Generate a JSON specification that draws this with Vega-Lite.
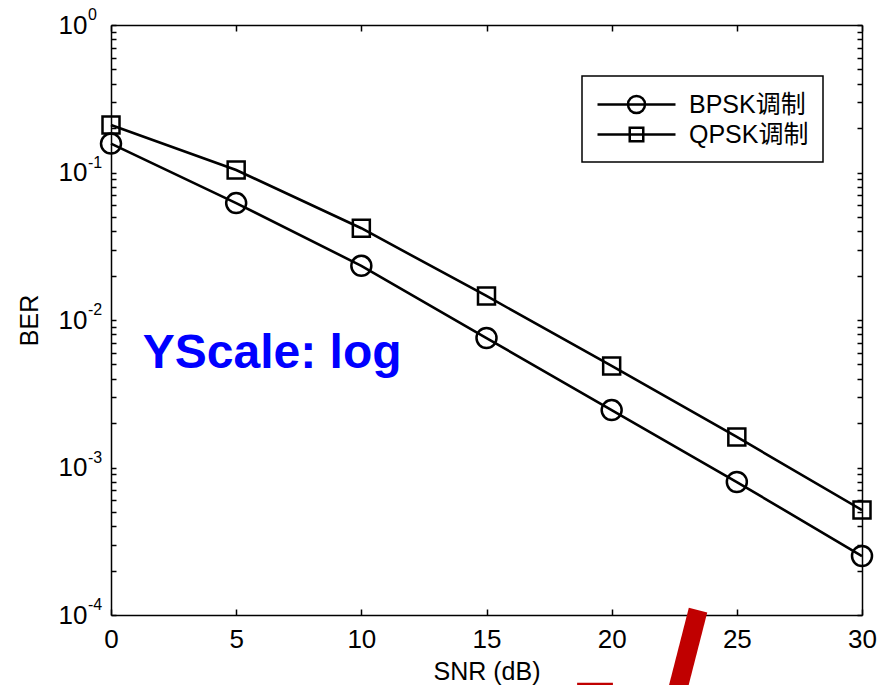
{
  "$schema": "https://vega.github.io/schema/vega-lite/v6.json",
  "width": 751,
  "height": 590,
  "autosize": {"type": "none"},
  "padding": {"left": 111, "top": 25, "right": 27, "bottom": 70},
  "background": "white",
  "config": {
    "view": {"stroke": null},
    "font": "Liberation Sans",
    "axis": {
      "grid": false,
      "domainColor": "black",
      "domainWidth": 1.5,
      "tickColor": "black",
      "tickWidth": 1.5,
      "labelColor": "black",
      "titleColor": "black",
      "labelFont": "Liberation Sans",
      "titleFont": "Liberation Sans",
      "labelFontSize": 26,
      "titleFontSize": 25,
      "titleFontWeight": "normal",
      "labelFlush": false,
      "labelOverlap": false
    },
    "legend": {
      "labelFont": "Liberation Sans, Noto Sans CJK SC",
      "labelFontSize": 25,
      "labelColor": "black",
      "strokeColor": "black",
      "strokeWidth": 1.5,
      "fillColor": "white",
      "padding": 14,
      "symbolStrokeColor": "black",
      "symbolStrokeWidth": 2.5,
      "symbolFillColor": "transparent"
    }
  },
  "datasets": {
    "ber": [
      {"snr": 0, "ber": 0.157, "mod": "BPSK调制"},
      {"snr": 5, "ber": 0.062, "mod": "BPSK调制"},
      {"snr": 10, "ber": 0.0233, "mod": "BPSK调制"},
      {"snr": 15, "ber": 0.00755, "mod": "BPSK调制"},
      {"snr": 20, "ber": 0.00245, "mod": "BPSK调制"},
      {"snr": 25, "ber": 0.000797, "mod": "BPSK调制"},
      {"snr": 30, "ber": 0.000251, "mod": "BPSK调制"},
      {"snr": 0, "ber": 0.21, "mod": "QPSK调制"},
      {"snr": 5, "ber": 0.104, "mod": "QPSK调制"},
      {"snr": 10, "ber": 0.0419, "mod": "QPSK调制"},
      {"snr": 15, "ber": 0.01455, "mod": "QPSK调制"},
      {"snr": 20, "ber": 0.00488, "mod": "QPSK调制"},
      {"snr": 25, "ber": 0.00161, "mod": "QPSK调制"},
      {"snr": 30, "ber": 0.000515, "mod": "QPSK调制"}
    ],
    "exps": [
      {"v": 1, "e": "0"},
      {"v": 0.1, "e": "-1"},
      {"v": 0.01, "e": "-2"},
      {"v": 0.001, "e": "-3"},
      {"v": 0.0001, "e": "-4"}
    ],
    "slash": [
      {"x": 23.45, "y": 0.000108},
      {"x": 22.53, "y": 0.0000265}
    ],
    "dash": [
      {"x": 18.62, "y": 0.000034},
      {"x": 20.05, "y": 0.000034}
    ],
    "note": [
      {"x": 1.27, "y": 0.00473, "label": "YScale: log"}
    ]
  },
  "layer": [
    {
      "data": {"name": "ber"},
      "mark": {"type": "line", "color": "black", "strokeWidth": 2.6},
      "encoding": {
        "x": {
          "field": "snr", "type": "quantitative",
          "scale": {"domain": [0, 30], "nice": false, "zero": false},
          "axis": {"orient": "bottom", "values": [0, 5, 10, 15, 20, 25, 30], "title": "SNR (dB)", "tickSize": -6, "labelPadding": 17, "titlePadding": 7, "labelAngle": 0}
        },
        "y": {
          "field": "ber", "type": "quantitative",
          "scale": {"type": "log", "domain": [0.0001, 1], "nice": false},
          "axis": {
            "orient": "left",
            "values": [0.0001, 0.0002, 0.0003, 0.0004, 0.0005, 0.0006, 0.0007, 0.0008, 0.0009, 0.001, 0.002, 0.003, 0.004, 0.005, 0.006, 0.007, 0.008, 0.009, 0.01, 0.02, 0.03, 0.04, 0.05, 0.06, 0.07, 0.08, 0.09, 0.1, 0.2, 0.3, 0.4, 0.5, 0.6, 0.7, 0.8, 0.9, 1],
            "labelExpr": "(datum.value == 1 || datum.value == 0.1 || datum.value == 0.01 || datum.value == 0.001 || datum.value == 0.0001) ? '10' : ''",
            "tickSize": -5, "labelPadding": 29, "title": "BER", "titlePadding": 16
          }
        },
        "detail": {"field": "mod", "type": "nominal"}
      }
    },
    {
      "data": {"name": "ber"},
      "mark": {"type": "point", "filled": false, "color": "black", "strokeWidth": 2.5, "opacity": 1, "size": 400},
      "encoding": {
        "x": {
          "field": "snr", "type": "quantitative",
          "scale": {"domain": [0, 30], "nice": false, "zero": false},
          "axis": {"orient": "top", "values": [0, 5, 10, 15, 20, 25, 30], "labels": false, "title": null, "tickSize": -6}
        },
        "y": {
          "field": "ber", "type": "quantitative",
          "scale": {"type": "log", "domain": [0.0001, 1], "nice": false},
          "axis": {
            "orient": "right",
            "values": [0.0001, 0.0002, 0.0003, 0.0004, 0.0005, 0.0006, 0.0007, 0.0008, 0.0009, 0.001, 0.002, 0.003, 0.004, 0.005, 0.006, 0.007, 0.008, 0.009, 0.01, 0.02, 0.03, 0.04, 0.05, 0.06, 0.07, 0.08, 0.09, 0.1, 0.2, 0.3, 0.4, 0.5, 0.6, 0.7, 0.8, 0.9, 1],
            "labels": false, "title": null, "tickSize": -5
          }
        },
        "shape": {
          "field": "mod", "type": "nominal",
          "scale": {"domain": ["BPSK调制", "QPSK调制"], "range": ["M1,0A1,1 0 1,1 -1,0A1,1 0 1,1 1,0Z", "M-0.85,-0.85H0.85V0.85H-0.85Z"]},
          "legend": null
        }
      }
    },
    {
      "data": {"name": "ber"},
      "mark": {"type": "point", "filled": false, "color": "black", "strokeWidth": 2.5, "size": 0},
      "encoding": {
        "x": {"field": "snr", "type": "quantitative", "scale": {"domain": [0, 30], "nice": false, "zero": false}, "axis": null},
        "y": {"field": "ber", "type": "quantitative", "scale": {"type": "log", "domain": [0.0001, 1], "nice": false}, "axis": null},
        "shape": {
          "field": "mod", "type": "nominal",
          "scale": {"domain": ["BPSK调制", "QPSK调制"], "range": ["M-1,0H5M2.654,0A0.654,0.654 0 1,1 1.346,0A0.654,0.654 0 1,1 2.654,0", "M-1,0H5M1.48,-0.52H2.52V0.52H1.48Z"]},
          "legend": {"title": null, "orient": "none", "legendX": 471, "legendY": 51, "symbolSize": 676, "labelOffset": 64, "rowPadding": 1, "symbolStrokeWidth": 2.5, "symbolStrokeColor": "black", "symbolOpacity": 1}
        }
      }
    },
    {
      "data": {"name": "exps"},
      "mark": {"type": "text", "font": "Liberation Sans", "fontSize": 16, "color": "black", "align": "left", "baseline": "alphabetic", "dx": -23, "dy": -5, "clip": false},
      "encoding": {
        "x": {"datum": 0, "type": "quantitative", "scale": {"domain": [0, 30], "nice": false, "zero": false}, "axis": null},
        "y": {"field": "v", "type": "quantitative", "scale": {"type": "log", "domain": [0.0001, 1], "nice": false}, "axis": null},
        "text": {"field": "e", "type": "nominal"}
      }
    },
    {
      "data": {"name": "slash"},
      "mark": {"type": "line", "color": "#c00000", "strokeWidth": 19, "strokeCap": "butt", "clip": false},
      "encoding": {
        "x": {"field": "x", "type": "quantitative", "scale": {"domain": [0, 30], "nice": false, "zero": false}, "axis": null},
        "y": {"field": "y", "type": "quantitative", "scale": {"type": "log", "domain": [0.0001, 1], "nice": false}, "axis": null}
      }
    },
    {
      "data": {"name": "dash"},
      "mark": {"type": "line", "color": "#c00000", "strokeWidth": 2.5, "strokeCap": "butt", "clip": false},
      "encoding": {
        "x": {"field": "x", "type": "quantitative", "scale": {"domain": [0, 30], "nice": false, "zero": false}, "axis": null},
        "y": {"field": "y", "type": "quantitative", "scale": {"type": "log", "domain": [0.0001, 1], "nice": false}, "axis": null}
      }
    },
    {
      "data": {"name": "note"},
      "mark": {"type": "text", "font": "Liberation Sans", "fontSize": 48, "fontWeight": "bold", "color": "#0000ff", "align": "left", "baseline": "alphabetic"},
      "encoding": {
        "x": {"field": "x", "type": "quantitative", "scale": {"domain": [0, 30], "nice": false, "zero": false}, "axis": null},
        "y": {"field": "y", "type": "quantitative", "scale": {"type": "log", "domain": [0.0001, 1], "nice": false}, "axis": null},
        "text": {"field": "label", "type": "nominal"}
      }
    }
  ],
  "resolve": {
    "axis": {"x": "independent", "y": "independent"},
    "scale": {"shape": "independent"}
  }
}
